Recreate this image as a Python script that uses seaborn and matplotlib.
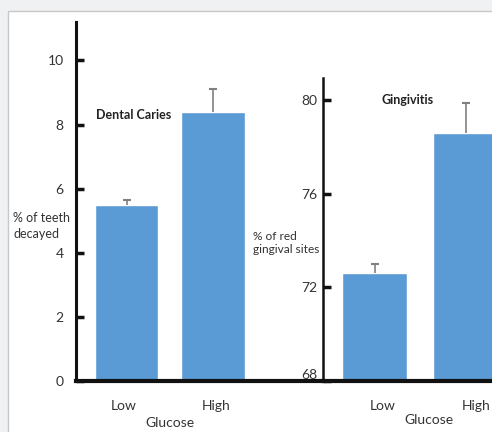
import numpy as np
import pandas as pd
import matplotlib.pyplot as plt
import matplotlib.patches as mpatches
import seaborn as sns

# data
glucose = ['Low', 'High']
caries_pct = [5.5, 8.4]
caries_err = [0.15, 0.7]
gingivitis_pct = [72.6, 78.6]
gingivitis_err = [0.4, 1.3]

bar_color = '#5b9bd5'
font = ['Lato', 'DejaVu Sans']

sns.set_style('white')
plt.rcParams['font.family'] = font

fig = plt.figure(figsize=(4.92, 4.32), dpi=100, facecolor='#f0f1f3')
W, H = 492, 432

# white panel behind everything
fig.patches.append(mpatches.Rectangle((8 / W, -0.1), 1, 1.1 - 11 / H, transform=fig.transFigure,
                                      facecolor='white', edgecolor='#c8c8c8', lw=1, zorder=-5))


def px_axes(x0, x1, ytop, ybot=381):
    return fig.add_axes([x0 / W, 1 - ybot / H, (x1 - x0) / W, (ybot - ytop) / H])


ax1 = px_axes(76, 323, 22)
ax2 = px_axes(323, 492, 78)

df1 = pd.DataFrame({'Glucose': glucose, 'pct': caries_pct})
df2 = pd.DataFrame({'Glucose': glucose, 'pct': gingivitis_pct})

sns.barplot(data=df1, x='Glucose', y='pct', color=bar_color, saturation=1, width=0.73,
            errorbar=None, ax=ax1, zorder=2)
sns.barplot(data=df2, x='Glucose', y='pct', color=bar_color, saturation=1, width=0.71,
            errorbar=None, ax=ax2, zorder=2)


def up_errors(ax, vals, errs):
    # upward-only error bar with a single cap at the top
    x = np.arange(len(vals))
    top = np.array(vals) + np.array(errs)
    ax.vlines(x, vals, top, color='#808080', lw=1.2, zorder=3)
    ax.plot(x, top, ls='none', marker='_', ms=6, mew=1.5, color='#808080', zorder=3)


up_errors(ax1, caries_pct, caries_err)
up_errors(ax2, gingivitis_pct, gingivitis_err)

ax1.set_xlim(-0.584, 2.27)
ax1.set_ylim(0, 11.2)
ax1.set_yticks([0, 2, 4, 6, 8, 10])
ax2.set_xlim(-0.566, 1.291)
ax2.set_ylim(68, 80.95)
ax2.set_yticks([68, 72, 76, 80])

for ax, lw in [(ax1, 2.2), (ax2, 1.8)]:
    ax.set_facecolor('none')
    ax.set_xlabel('')
    ax.set_ylabel('')
    ax.set_xticks([])
    ax.spines['top'].set_visible(False)
    ax.spines['right'].set_visible(False)
    ax.spines['left'].set_linewidth(lw)
    ax.spines['left'].set_color('#111111')
    ax.spines['bottom'].set_linewidth(3)
    ax.spines['bottom'].set_color('#111111')
    ax.tick_params(axis='y', left=True, direction='in', length=6, width=2.5, color='#111111',
                   labelsize=10, labelcolor='#333333')
    for t in ax.get_yticklabels():
        t.set_fontfamily(font)

ax1.tick_params(axis='y', pad=9)
ax2.tick_params(axis='y', pad=4)
ax2.get_yticklabels()[0].set_va('bottom')

# titles inside the plots
ax1.text(-0.35, 8.3, 'Dental Caries', fontsize=9, fontweight='bold', color='#222222',
         ha='left', va='center', family=font)
ax2.text(0.08, 80.0, 'Gingivitis', fontsize=9, fontweight='bold', color='#222222',
         ha='left', va='center', family=font)

# y labels placed as in the reference
fig.text(13 / W, 1 - 226 / H, '% of teeth\ndecayed', fontsize=9, color='#333333',
         ha='left', va='center', linespacing=1.3, family=font)
fig.text(253 / W, 1 - 243 / H, '% of red\ngingival sites', fontsize=8.6, color='#333333',
         ha='left', va='center', linespacing=1.3, family=font)

# category labels and axis title
for ax, xs in [(ax1, [124, 216]), (ax2, [383, 476])]:
    for g, xp in zip(glucose, xs):
        fig.text(xp / W, 1 - 406 / H, g, fontsize=10, color='#333333', ha='center',
                 va='center', family=font)
fig.text(170 / W, 1 - 423 / H, 'Glucose', fontsize=10, color='#333333', ha='center',
         va='center', family=font)
fig.text(429 / W, 1 - 420 / H, 'Glucose', fontsize=10, color='#333333', ha='center',
         va='center', family=font)

fig.savefig('out.png', dpi=100, facecolor=fig.get_facecolor())
